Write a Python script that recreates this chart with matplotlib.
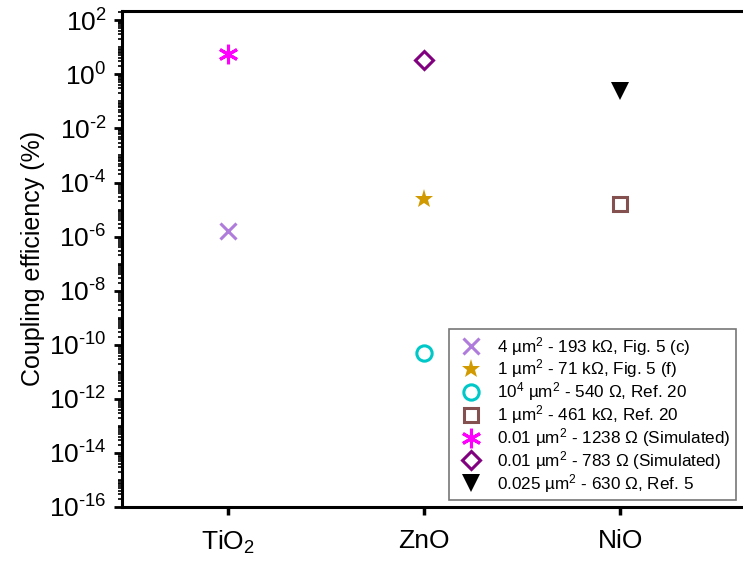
import matplotlib.pyplot as plt
from matplotlib.ticker import LogLocator, FixedLocator, NullFormatter
import numpy as np

plt.rcParams['font.family'] = ['Liberation Sans', 'DejaVu Sans']
plt.rcParams['mathtext.fontset'] = 'custom'
plt.rcParams['mathtext.rm'] = 'Liberation Sans'
plt.rcParams['mathtext.it'] = 'Liberation Sans:italic'
plt.rcParams['mathtext.bf'] = 'Liberation Sans:bold'

# data
materials = ['TiO$_2$', 'ZnO', 'NiO']
series_x = [1, 2, 2, 3, 1, 2, 3]
series_y = [1.6e-6, 2.5e-5, 4.8e-11, 1.6e-5, 5.5, 3.5, 0.25]
labels = [
    '4 \u00b5m$^2$ - 193 k\u03a9, Fig. 5 (c)',
    '1 \u00b5m$^2$ - 71 k\u03a9, Fig. 5 (f)',
    '10$^4$ \u00b5m$^2$ - 540 \u03a9, Ref. 20',
    '1 \u00b5m$^2$ - 461 k\u03a9, Ref. 20',
    '0.01 \u00b5m$^2$ - 1238 \u03a9 (Simulated)',
    '0.01 \u00b5m$^2$ - 783 \u03a9 (Simulated)',
    '0.025 \u00b5m$^2$ - 630 \u03a9, Ref. 5',
]
markers = ['x', '*', 'o', 's', (6, 2, 0), 'D', 'v']
colors = ['#B07CDC', '#D19A00', '#00C8C8', '#845050', '#FF00FF', '#800080', '#000000']
sizes = [12, 14, 11, 10, 14, 11, 13]
filled = [True, True, False, False, True, False, True]
exponents = list(range(-16, 3, 2))

fig = plt.figure(figsize=(7.43, 5.69), dpi=100)
ax = fig.add_axes([0.164, 0.109, 0.856, 0.872])

for x, y, lab, m, c, s, f in zip(series_x, series_y, labels, markers, colors, sizes, filled):
    if m in ('x', (6, 2, 0)):
        ax.plot([x], [y], linestyle='none', marker=m, color=c, markersize=s,
                markeredgewidth=2.2, label=lab)
    elif f:
        ax.plot([x], [y], linestyle='none', marker=m, color=c, markersize=s,
                markeredgewidth=0, label=lab)
    else:
        ax.plot([x], [y], linestyle='none', marker=m, markerfacecolor='none',
                markeredgecolor=c, markersize=s * 0.85 if m == 'D' else s,
                markeredgewidth=2.2, label=lab)

ax.set_yscale('log')
ax.set_ylim(1e-16, 10 ** 2.35)
ax.set_xlim(0.46, 3.70)

ax.yaxis.set_major_locator(FixedLocator([10.0 ** e for e in exponents]))
ax.set_yticklabels(['10$^{\\text{%d}}$' % e for e in exponents])
ax.yaxis.set_minor_locator(LogLocator(base=10, subs=np.arange(1, 10), numticks=40))
ax.yaxis.set_minor_formatter(NullFormatter())

ax.set_xticks([1, 2, 3])
ax.set_xticklabels(materials)

ax.spines['right'].set_visible(False)
for sp in ['left', 'bottom', 'top']:
    ax.spines[sp].set_linewidth(2.2)

ax.tick_params(axis='y', which='major', length=6, width=2, labelsize=19, pad=5)
ax.tick_params(axis='y', which='minor', length=3, width=1.2)
ax.tick_params(axis='x', which='major', length=6, width=2.5, labelsize=19, pad=10)

ax.set_ylabel('Coupling efficiency (%)', fontsize=18, labelpad=3)

leg = ax.legend(loc='lower right', bbox_to_anchor=(0.9654, 0.014),
                fontsize=12.3, frameon=True, fancybox=False, handletextpad=0.5,
                borderpad=0.3, labelspacing=0.0, handlelength=2.0,
                borderaxespad=0.0)
leg.get_frame().set_edgecolor('#555555')
leg.get_frame().set_linewidth(1.2)

fig.savefig('out.png', dpi=100)
